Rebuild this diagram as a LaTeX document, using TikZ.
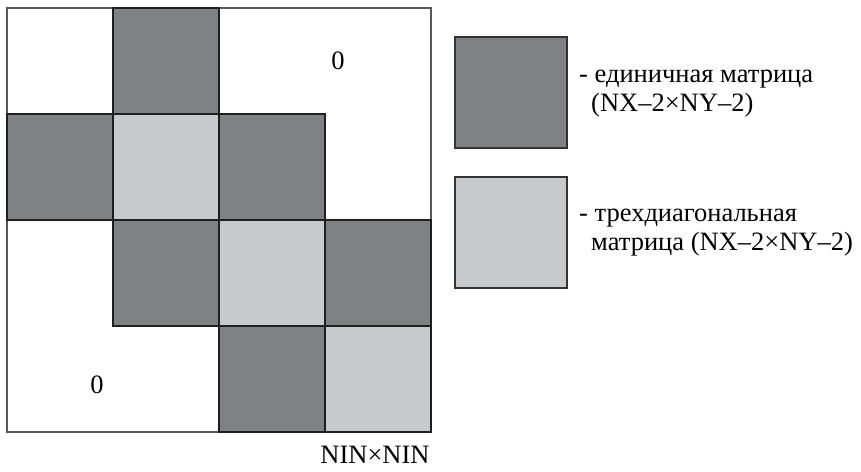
\documentclass[tikz,border=0pt]{standalone}
\usepackage{fontspec}
\setmainfont{Liberation Serif}
\begin{document}
\begin{tikzpicture}[x=1pt,y=-1pt,
  cell/.style={draw=black!88,line width=1.3pt,minimum width=106pt,minimum height=106pt,inner sep=0pt,outer sep=0pt},
  dk/.style={cell,fill=dkgray},
  lt/.style={cell,fill=ltgray},
  lg/.style={draw=black!80,line width=1.2pt,minimum width=112pt,minimum height=111pt,inner sep=0pt},
  txt/.style={font=\fontsize{26.5}{30}\selectfont,inner sep=0pt}]
\definecolor{dkgray}{HTML}{808184}
\definecolor{ltgray}{HTML}{C8C9CB}
\useasboundingbox (0,0) rectangle (861,471);
\fill[white] (0,0) rectangle (861,471);
\node[draw=black!65,line width=1.3pt,minimum width=424pt,minimum height=424pt,inner sep=0pt] (frame) at (219,220) {};
% row 0
\node[dk] (c01) at (166,61) {};
% row 1
\node[dk] (c10) at (60,167) {};
\node[lt] (c11) at (166,167) {};
\node[dk] (c12) at (272,167) {};
% row 2
\node[dk] (c21) at (166,273) {};
\node[lt] (c22) at (272,273) {};
\node[dk] (c23) at (378,273) {};
% row 3
\node[dk] (c32) at (272,379) {};
\node[lt] (c33) at (378,379) {};
\node[txt] (z1) at (338,61) {0};
\node[txt] (z2) at (97,385) {0};
\node[txt] (size) at (375,455) {NIN×NIN};
% legend
\node[lg,fill=dkgray] (l1) at (511,92.5) {};
\node[lg,fill=ltgray] (l2) at (511,232.5) {};
\node[txt,anchor=base west] (t1) at (579,82) {- единичная матрица};
\node[txt,anchor=base west] (t2) at (591,111) {(NX–2×NY–2)};
\node[txt,anchor=base west] (t3) at (579,221) {- трехдиагональная};
\node[txt,anchor=base west] (t4) at (591,250) {матрица (NX–2×NY–2)};
\end{tikzpicture}
\end{document}
